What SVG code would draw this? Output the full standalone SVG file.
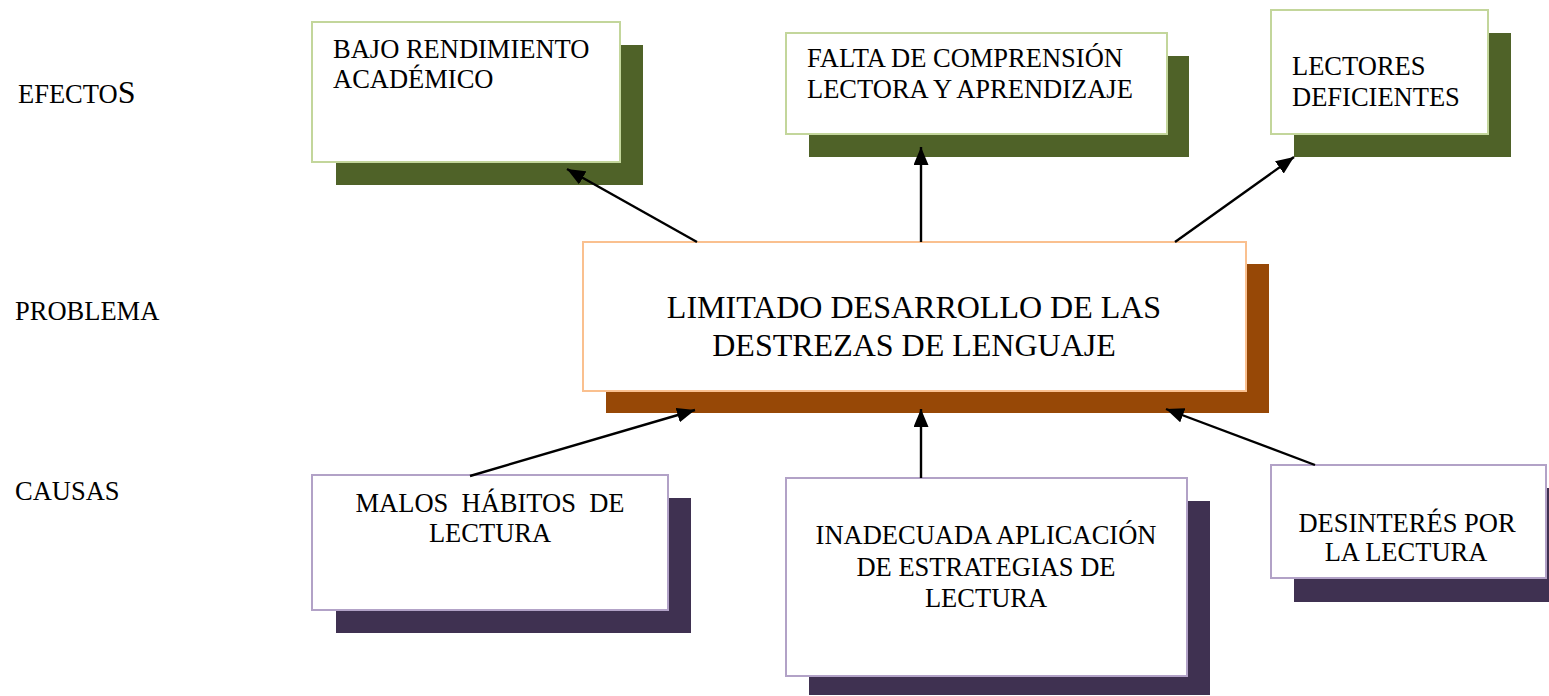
<svg xmlns="http://www.w3.org/2000/svg" width="1549" height="696" viewBox="0 0 1549 696">
<style>
text{font-family:"Liberation Serif","Times New Roman",serif;font-size:26.5px;fill:#000}
text.big{font-size:32px}
.eff{fill:#4f6228}
.effb{fill:#fff;stroke:#c3d69b;stroke-width:2}
.prob{fill:#974806}
.probb{fill:#fff;stroke:#fac08f;stroke-width:2}
.cau{fill:#3f3151}
.caub{fill:#fff;stroke:#b2a2c7;stroke-width:2}
.mid{text-anchor:middle}
.conn line{stroke:#000;stroke-width:2.4;marker-end:url(#ah)}
</style>
<defs>
<marker id="ah" markerUnits="userSpaceOnUse" markerWidth="19" markerHeight="15" refX="18" refY="7.5" orient="auto">
<path d="M0,0 L18,7.5 L0,15 z" fill="#000"/>
</marker>
</defs>
<rect width="1549" height="696" fill="#fff"/>
<g id="labels">
<text x="18" y="103">EFECTO<tspan style="font-size:32px">S</tspan></text>
<text x="15" y="320">PROBLEMA</text>
<text x="15" y="500">CAUSAS</text>
</g>
<g id="efecto1">
<rect class="eff" x="336" y="45" width="307" height="140"/>
<rect class="effb" x="312" y="22" width="308" height="140"/>
<text x="333" y="58">BAJO RENDIMIENTO</text>
<text x="333" y="88">ACADÉMICO</text>
</g>
<g id="efecto2">
<rect class="eff" x="809" y="56" width="380" height="101"/>
<rect class="effb" x="786" y="33" width="381" height="101"/>
<text x="807" y="67">FALTA DE COMPRENSIÓN</text>
<text x="807" y="98">LECTORA Y APRENDIZAJE</text>
</g>
<g id="efecto3">
<rect class="eff" x="1294" y="33" width="217" height="124"/>
<rect class="effb" x="1271" y="10" width="217" height="124"/>
<text x="1292" y="75">LECTORES</text>
<text x="1292" y="106">DEFICIENTES</text>
</g>
<g id="problema">
<rect class="prob" x="606" y="264" width="663" height="149"/>
<rect class="probb" x="583" y="242" width="663" height="149"/>
<text class="mid big" x="914" y="318">LIMITADO DESARROLLO DE LAS</text>
<text class="mid big" x="914" y="356">DESTREZAS DE LENGUAJE</text>
</g>
<g id="causa1">
<rect class="cau" x="336" y="498" width="355" height="135"/>
<rect class="caub" x="312" y="475" width="356" height="135"/>
<text class="mid" x="490" y="512" xml:space="preserve">MALOS  HÁBITOS  DE</text>
<text class="mid" x="490" y="542">LECTURA</text>
</g>
<g id="causa2">
<rect class="cau" x="809" y="501" width="401" height="194"/>
<rect class="caub" x="786" y="478" width="401" height="198"/>
<text class="mid" x="986" y="544">INADECUADA APLICACIÓN</text>
<text class="mid" x="986" y="576">DE ESTRATEGIAS DE</text>
<text class="mid" x="986" y="607">LECTURA</text>
</g>
<g id="causa3">
<rect class="cau" x="1294" y="488" width="256" height="114"/>
<rect class="caub" x="1271" y="465" width="275" height="113"/>
<text class="mid" x="1407" y="532">DESINTERÉS POR</text>
<text class="mid" x="1406" y="561">LA LECTURA</text>
</g>
<g id="connectors" class="conn">
<line x1="697" y1="242" x2="567" y2="169"/>
<line x1="921" y1="242" x2="921" y2="147"/>
<line x1="1175" y1="242" x2="1294" y2="157"/>
<line x1="470" y1="476" x2="695" y2="410"/>
<line x1="921" y1="478" x2="921" y2="409"/>
<line x1="1315" y1="465" x2="1166" y2="409"/>
</g>
</svg>
